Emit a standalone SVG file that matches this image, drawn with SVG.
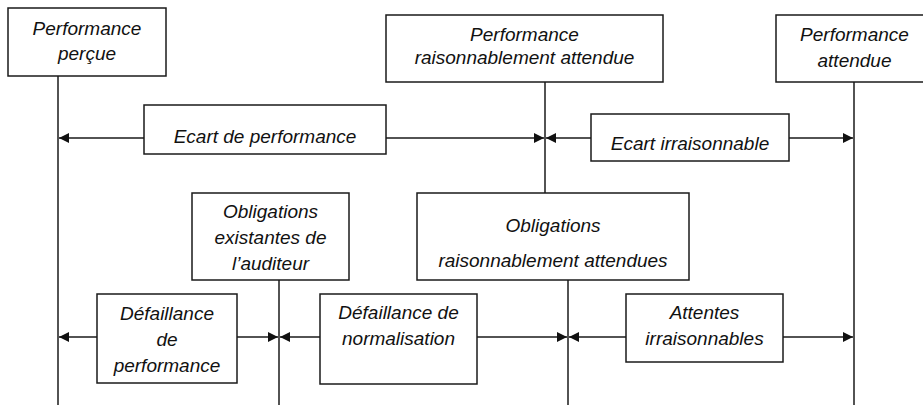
<svg xmlns="http://www.w3.org/2000/svg" width="923" height="405" viewBox="0 0 923 405">
<style>
.box{fill:#fff;stroke:#1a1a1a;stroke-width:1.5}
.ln{fill:none;stroke:#1a1a1a;stroke-width:1.5}
text{font-family:"Liberation Sans",Arial,sans-serif;font-style:italic;font-size:19px;fill:#111;text-anchor:middle}
</style>
<defs>
<marker id="ah" viewBox="0 0 10 10" refX="10" refY="5" markerWidth="11" markerHeight="10" markerUnits="userSpaceOnUse" orient="auto">
<path d="M0,0 L10,5 L0,10 Z" fill="#111"/>
</marker>
</defs>
<g id="connectors">
<line class="ln" x1="58" y1="76" x2="58" y2="405"/>
<line class="ln" x1="545" y1="82" x2="545" y2="193"/>
<line class="ln" x1="568" y1="280" x2="568" y2="405"/>
<line class="ln" x1="854" y1="82" x2="854" y2="405"/>
<line class="ln" x1="279" y1="280" x2="279" y2="405"/>
<line class="ln" x1="144" y1="138" x2="59" y2="138" marker-end="url(#ah)"/>
<line class="ln" x1="386" y1="138" x2="544" y2="138" marker-end="url(#ah)"/>
<line class="ln" x1="591" y1="138" x2="546" y2="138" marker-end="url(#ah)"/>
<line class="ln" x1="789" y1="138" x2="853" y2="138" marker-end="url(#ah)"/>
<line class="ln" x1="97" y1="337" x2="59" y2="337" marker-end="url(#ah)"/>
<line class="ln" x1="237" y1="337" x2="278" y2="337" marker-end="url(#ah)"/>
<line class="ln" x1="320" y1="337" x2="280" y2="337" marker-end="url(#ah)"/>
<line class="ln" x1="477" y1="337" x2="567" y2="337" marker-end="url(#ah)"/>
<line class="ln" x1="626" y1="337" x2="569" y2="337" marker-end="url(#ah)"/>
<line class="ln" x1="783" y1="337" x2="853" y2="337" marker-end="url(#ah)"/>
</g>
<g id="perf-percue">
<rect class="box" x="8" y="8" width="158" height="68"/>
<text x="87" y="35">Performance</text>
<text x="87" y="60">perçue</text>
</g>
<g id="perf-raison">
<rect class="box" x="386" y="15" width="277" height="67"/>
<text x="524.5" y="41">Performance</text>
<text x="524.5" y="64">raisonnablement attendue</text>
</g>
<g id="perf-attendue">
<rect class="box" x="776" y="15" width="156" height="67"/>
<text x="854.5" y="41">Performance</text>
<text x="854.5" y="67">attendue</text>
</g>
<g id="ecart-perf">
<rect class="box" x="144" y="105" width="242" height="49"/>
<text x="265" y="143">Ecart de performance</text>
</g>
<g id="ecart-irr">
<rect class="box" x="591" y="114" width="198" height="47"/>
<text x="690" y="150">Ecart irraisonnable</text>
</g>
<g id="oblig-exist">
<rect class="box" x="192" y="193" width="157" height="87"/>
<text x="270.5" y="218">Obligations</text>
<text x="270.5" y="244">existantes de</text>
<text x="270.5" y="270">l’auditeur</text>
</g>
<g id="oblig-raison">
<rect class="box" x="417" y="193" width="272" height="87"/>
<text x="553" y="232">Obligations</text>
<text x="553" y="267">raisonnablement attendues</text>
</g>
<g id="def-perf">
<rect class="box" x="97" y="294" width="140" height="89"/>
<text x="167" y="320">Défaillance</text>
<text x="167" y="346">de</text>
<text x="167" y="372">performance</text>
</g>
<g id="def-norm">
<rect class="box" x="320" y="294" width="157" height="90"/>
<text x="398.5" y="319">Défaillance de</text>
<text x="398.5" y="345">normalisation</text>
</g>
<g id="attentes-irr">
<rect class="box" x="626" y="294" width="157" height="68"/>
<text x="704.5" y="319">Attentes</text>
<text x="704.5" y="345">irraisonnables</text>
</g>
</svg>
